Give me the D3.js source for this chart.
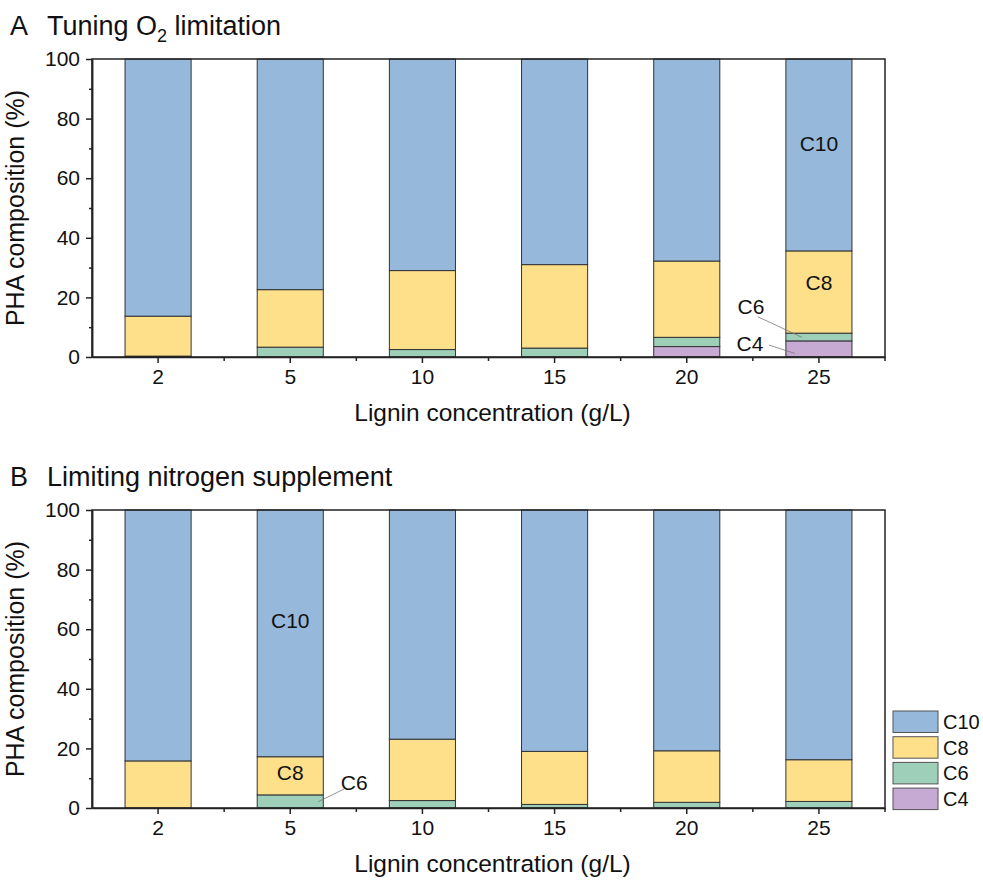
<!DOCTYPE html>
<html>
<head>
<meta charset="utf-8">
<script src="https://cdn.jsdelivr.net/npm/d3@7"></script>
<style>
  body { margin: 0; background: #fff; }
  svg { font-family: "Liberation Sans", Arial, sans-serif; }
</style>
</head>
<body>
<div id="chart"></div>
<script>
let concentrations = ['2', '5', '10', '15', '20', '25']
let seriesNames = ['C4', 'C6', 'C8', 'C10']
let seriesColors = { C10: '#95b8db', C8: '#fee08b', C6: '#9ecfb9', C4: '#c6aad3' }
let yTicks = [0, 20, 40, 60, 80, 100]

// panel A: tuning O2 limitation (%)
let o2C4 = [0, 0, 0, 0, 3.5, 5.4]
let o2C6 = [0.3, 3.3, 2.5, 3.0, 3.1, 2.6]
let o2C8 = [13.4, 19.3, 26.5, 28.0, 25.6, 27.6]
let o2C10 = [86.3, 77.4, 71.0, 69.0, 67.8, 64.4]

// panel B: limiting nitrogen supplement (%)
let nC4 = [0, 0, 0, 0, 0, 0]
let nC6 = [0, 4.4, 2.5, 1.2, 1.9, 2.2]
let nC8 = [15.8, 12.8, 20.6, 17.8, 17.3, 14.0]
let nC10 = [84.2, 82.8, 76.9, 81.0, 80.8, 83.8]

let width = 983
let height = 886
let plotLeft = 92
let plotWidth = 793
let plotHeight = 298

let svg = d3.select('#chart')
  .append('svg')
    .attr('width', width)
    .attr('height', height)

function buildRows(c4, c6, c8, c10) {
  return concentrations.map((c, i) => ({ conc: c, C4: c4[i], C6: c6[i], C8: c8[i], C10: c10[i] }))
}

let xScale = d3.scaleBand().domain(concentrations).range([0, plotWidth]).paddingInner(0.5).paddingOuter(0.25)
let yScale = d3.scaleLinear().domain([0, 100]).range([plotHeight, 0])
let stack = d3.stack().keys(seriesNames)

function drawPanel(top, letter, titleParts, rows, labels) {
  let g = svg.append('g').attr('transform', `translate(${plotLeft}, ${top})`)

  // title
  let title = svg.append('text')
    .attr('x', 10)
    .attr('y', top - 24)
    .attr('font-size', 27)
    .attr('fill', '#111')
  title.append('tspan').text(letter)
  title.append('tspan').attr('x', 47).text(titleParts[0])
  if (titleParts.length > 1) {
    title.append('tspan').attr('font-size', 18).attr('dy', 7).text(titleParts[1])
    title.append('tspan').attr('dy', -7).text(titleParts[2])
  }

  // stacked bars
  let layers = stack(rows)
  g.selectAll('.layer')
    .data(layers)
    .enter().append('g')
      .attr('fill', d => seriesColors[d.key])
    .selectAll('rect')
    .data(d => d.filter(s => s[1] - s[0] > 0))
    .enter().append('rect')
      .attr('x', d => xScale(d.data.conc))
      .attr('width', xScale.bandwidth())
      .attr('y', d => yScale(d[1]))
      .attr('height', d => yScale(d[0]) - yScale(d[1]))
      .attr('stroke', '#333')
      .attr('stroke-width', 1)

  // frame
  g.append('rect')
    .attr('width', plotWidth)
    .attr('height', plotHeight)
    .attr('fill', 'none')
    .attr('stroke', '#222')
    .attr('stroke-width', 1.5)

  // y axis
  g.append('g')
    .call(d3.axisLeft(yScale).tickValues(yTicks).tickSize(6).tickSizeOuter(0).tickPadding(6))
  g.append('g')
    .call(d3.axisLeft(yScale).tickValues(d3.range(10, 100, 20)).tickSize(3).tickSizeOuter(0).tickFormat(''))

  // x axis
  g.append('g')
    .attr('transform', `translate(0, ${plotHeight})`)
    .call(d3.axisBottom(xScale).tickSize(6).tickSizeOuter(0).tickPadding(6))
  let step = xScale.step()
  let minorX = concentrations.map(c => xScale(c) + xScale.bandwidth() / 2 + step / 2)
  g.append('g')
    .attr('transform', `translate(0, ${plotHeight})`)
    .selectAll('line')
    .data(minorX)
    .enter().append('line')
      .attr('x1', d => d).attr('x2', d => d)
      .attr('y1', 0).attr('y2', 4)
      .attr('stroke', '#222').attr('stroke-width', 1.5)

  g.selectAll('.domain').attr('stroke', '#222').attr('stroke-width', 1.5)
  g.selectAll('.tick line').attr('stroke', '#222').attr('stroke-width', 1.5)
  g.selectAll('.tick text').attr('font-size', 21).attr('fill', '#111')
    .attr('font-family', '"Liberation Sans", Arial, sans-serif')

  // axis titles
  g.append('text')
    .attr('transform', `translate(${-68}, ${plotHeight / 2}) rotate(-90)`)
    .attr('text-anchor', 'middle')
    .attr('font-size', 25)
    .attr('fill', '#111')
    .text('PHA composition (%)')
  g.append('text')
    .attr('x', plotWidth / 2 + 4)
    .attr('y', plotHeight + 64)
    .attr('text-anchor', 'middle')
    .attr('font-size', 24.5)
    .attr('fill', '#111')
    .text('Lignin concentration (g/L)')

  // in-bar labels and leader lines
  for (let l of labels) {
    let cx = xScale(l.conc) + xScale.bandwidth() / 2
    if (l.line) {
      g.append('line')
        .attr('x1', cx + l.line[0]).attr('y1', yScale(l.line[1]))
        .attr('x2', cx + l.line[2]).attr('y2', yScale(l.line[3]))
        .attr('stroke', '#777').attr('stroke-width', 0.8)
    }
    g.append('text')
      .attr('x', cx + l.dx)
      .attr('y', yScale(l.value))
      .attr('dy', '0.35em')
      .attr('text-anchor', 'middle')
      .attr('font-size', 21)
      .attr('fill', '#111')
      .text(l.name)
  }
}

drawPanel(59, 'A', ['Tuning O', '2', ' limitation'], buildRows(o2C4, o2C6, o2C8, o2C10), [
  { name: 'C10', conc: '25', dx: 0, value: 71.5 },
  { name: 'C8', conc: '25', dx: 0, value: 24.8 },
  { name: 'C6', conc: '25', dx: -68, value: 16.8, line: [-61, 13.5, -17, 6.6] },
  { name: 'C4', conc: '25', dx: -69, value: 4.6, line: [-50, 4, -24, 1.2] }
])

drawPanel(510, 'B', ['Limiting nitrogen supplement'], buildRows(nC4, nC6, nC8, nC10), [
  { name: 'C10', conc: '5', dx: 0, value: 62.8 },
  { name: 'C8', conc: '5', dx: 0, value: 12 },
  { name: 'C6', conc: '5', dx: 64, value: 8.6, line: [54, 6.4, 28, 2.1] }
])

// legend
let legend = svg.append('g').attr('transform', 'translate(893, 711)')
let legendKeys = seriesNames.slice().reverse()
legend.selectAll('rect')
  .data(legendKeys)
  .enter().append('rect')
    .attr('x', 0)
    .attr('y', (d, i) => i * 25.7)
    .attr('width', 45)
    .attr('height', 21.5)
    .attr('fill', d => seriesColors[d])
    .attr('stroke', '#555')
    .attr('stroke-width', 1)
legend.selectAll('text')
  .data(legendKeys)
  .enter().append('text')
    .attr('x', 50)
    .attr('y', (d, i) => i * 25.7 + 11)
    .attr('dy', '0.35em')
    .attr('font-size', 20)
    .attr('fill', '#111')
    .text(d => d)
</script>
</body>
</html>
